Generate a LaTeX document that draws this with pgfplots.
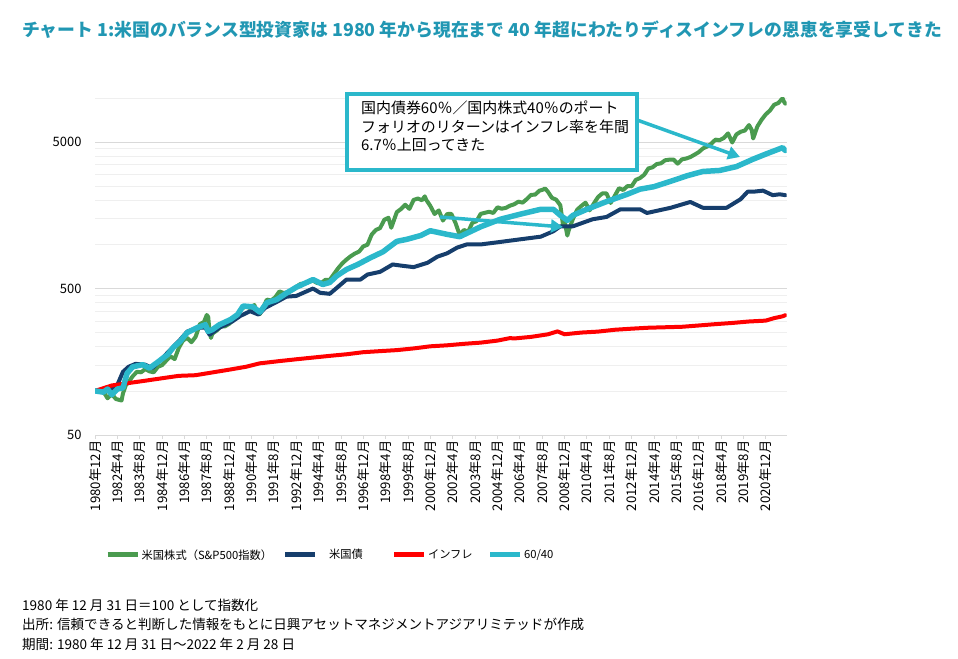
\documentclass[border=0pt]{standalone}
\usepackage{fontspec}
\setmainfont{Noto Sans CJK JP}
\usepackage{pgfplots}
\pgfplotsset{compat=1.18}
\usetikzlibrary{arrows.meta}

\definecolor{stk}{HTML}{4A9B4F}
\definecolor{bnd}{HTML}{163E6C}
\definecolor{cpi}{HTML}{FF0000}
\definecolor{mix}{HTML}{2BB8CB}
\definecolor{ttl}{HTML}{2197B3}
\definecolor{gmaj}{HTML}{D9D9D9}
\definecolor{gmin}{HTML}{EFEFEF}

% month index: 0 = 1980-12, 494 = 2022-02; 1980-12-31 = 100
\pgfplotstableread{
m v
0 100
3 101
6 99
9 89
12 95
15 88
19 86
20 96
22 109
24 115
27 126
30 135
33 134
36 141
39 136
42 134
45 146
48 150
51 161
54 172
57 165
60 197
63 221
66 230
69 215
72 234
75 285
78 296
80 330
81 320
82 253
83 230
84 246
87 258
90 275
93 276
96 287
99 305
102 330
105 364
108 378
111 367
114 386
116 345
118 335
120 366
123 420
126 414
129 436
132 478
135 466
138 472
141 487
144 514
147 537
150 540
153 554
156 566
159 545
162 547
165 574
168 573
171 628
174 688
177 743
180 789
183 831
186 867
189 894
192 970
195 996
198 1168
201 1256
204 1293
207 1473
210 1521
212 1300
213 1384
216 1663
219 1746
222 1867
225 1750
228 2013
231 2059
234 2003
236 2130
237 2018
240 1830
243 1613
246 1707
249 1456
252 1613
255 1617
258 1400
261 1159
264 1256
267 1217
270 1404
273 1441
276 1617
279 1644
282 1672
285 1641
288 1793
291 1754
294 1777
297 1841
300 1881
303 1960
306 1930
309 2040
312 2178
315 2190
318 2327
321 2376
322 2414
324 2298
327 2080
330 2022
333 1852
335 1336
336 1448
338 1150
339 1250
342 1493
345 1725
348 1831
351 1928
354 1709
357 1905
360 2107
363 2230
366 2233
369 1920
372 2151
375 2421
378 2355
381 2502
384 2496
387 2759
390 2840
393 2990
396 3304
399 3364
402 3540
405 3580
408 3756
411 3792
414 3800
417 3560
420 3808
423 3860
426 3950
429 4100
432 4263
435 4520
438 4660
441 4870
444 5194
447 5150
450 5330
453 5730
456 4966
459 5640
462 5880
465 5990
468 6530
470 6040
471 5290
474 6390
477 7100
480 7731
483 8210
486 8990
489 9240
492 9950
493 9440
494 9150
}\stocks

\pgfplotstableread{
m v
0 100
11 102
16 110
20 135
24 146
29 153
36 151
41 143
47 163
54 191
61 224
66 254
73 270
79 270
82 242
89 270
98 297
104 325
111 350
117 332
122 370
129 400
137 440
144 445
156 500
161 468
168 460
173 505
180 576
190 576
195 623
204 650
213 730
220 715
228 700
238 750
245 825
252 870
259 950
266 1000
276 1000
290 1040
304 1083
319 1130
328 1230
333 1330
342 1330
356 1485
366 1540
376 1738
390 1738
395 1640
412 1780
426 1950
435 1780
452 1780
462 2036
467 2290
471 2290
478 2330
485 2170
490 2200
494 2170
}\bonds

\pgfplotstableread{
m v
0 100
12 108.9
24 113.1
36 117.4
48 122.0
60 126.7
72 128.0
84 133.7
96 139.6
108 146.1
118 154.3
120 155.0
132 159.8
144 164.4
156 168.9
168 173.5
180 177.9
192 183.8
204 186.9
216 189.9
228 195.0
240 201.6
252 204.8
264 209.6
276 213.6
288 220.5
297 229.4
300 228.0
312 233.8
324 243.3
331 254.9
336 243.6
348 250.2
360 254.0
372 261.5
384 266.0
396 270.0
408 272.0
420 274.0
432 279.7
444 285.6
456 291.0
468 297.8
480 301.9
486 314.0
492 323.0
494 328.7
}\infl

\pgfplotstableread{
m v
0 100
6 98
9 103
12 94
16 103
20 105
23 132
27 146
34 151
39 143
44 155
52 177
56 198
61 218
66 250
73 270
79 283
81 255
84 262
89 283
97 307
102 332
106 380
113 375
118 345
123 400
130 420
137 465
144 510
156 576
163 533
168 550
173 610
180 675
188 730
197 810
206 890
216 1050
223 1083
233 1150
240 1240
252 1172
261 1130
276 1320
290 1485
304 1607
319 1738
328 1738
333 1580
338 1460
342 1580
352 1738
366 1960
381 2203
390 2384
400 2480
412 2700
424 2950
435 3150
447 3200
459 3400
471 3825
480 4139
492 4580
494 4380
}\mixed

\begin{document}
\begin{tikzpicture}[x=1bp,y=1bp]
\path[use as bounding box] (0,0) rectangle (958,659);

\begin{axis}[
  at={(95bp,224bp)}, anchor=south west,
  scale only axis, width=691.7bp, height=337bp,
  ymode=log, xmin=0, xmax=495, ymin=50, ymax=10000,
  axis x line=bottom, axis y line=left,
  x axis line style={-, draw=gmaj, line width=0.8bp},
  y axis line style={draw=none},
  tick align=outside, major tick length=4bp,
  xtick={0,16,...,480},
  xticklabels={1980年12月,1982年4月,1983年8月,1984年12月,1986年4月,1987年8月,1988年12月,1990年4月,1991年8月,1992年12月,1994年4月,1995年8月,1996年12月,1998年4月,1999年8月,2000年12月,2002年4月,2003年8月,2004年12月,2006年4月,2007年8月,2008年12月,2010年4月,2011年8月,2012年12月,2014年4月,2015年8月,2016年12月,2018年4月,2019年8月,2020年12月},
  xtick style={draw=gmaj, line width=0.8bp},
  xticklabel style={rotate=90, anchor=east, inner sep=1.5bp, font=\fontsize{13.3}{13.3}\selectfont},
  ytick={50,500,5000}, yticklabels={50,500,5000},
  ytick style={draw=none},
  yticklabel style={font=\fontsize{13}{13}\selectfont, xshift=-6bp},
  minor ytick={100,150,200,250,300,350,400,450,1000,1500,2000,2500,3000,3500,4000,4500,10000},
  ymajorgrids, yminorgrids,
  major grid style={draw=gmaj, line width=0.8bp},
  minor grid style={draw=gmin, line width=0.8bp},
  /pgf/number format/assume math mode=true,
  legend columns=4,
  legend style={at={(0.0145,-0.3561)}, anchor=west, draw=none, fill=none,
    inner sep=0pt, font=\fontsize{11.3}{11.3}\selectfont,
    nodes={inner sep=1.5bp},
    /tikz/every even column/.append style={column sep=9bp}},
  legend image code/.code={\draw[#1, line width=5bp, line cap=butt] (0bp,0bp) -- (30bp,0bp);},
  every axis plot/.append style={line join=round, line cap=round},
]
\addplot[stk, line width=4bp] table[x=m, y=v] {\stocks};
\addlegendentry{米国株式（S\&P500指数）}
\addplot[bnd, line width=4bp] table[x=m, y=v] {\bonds};
\addlegendentry{\makebox[62bp][l]{\hspace{10bp}米国債}}
\addplot[cpi, line width=4bp] table[x=m, y=v] {\infl};
\addlegendentry{\makebox[49bp][l]{インフレ}}
\addplot[mix, line width=5.5bp] table[x=m, y=v] {\mixed};
\addlegendentry{60/40}
\end{axis}

% title
\node[anchor=west, inner sep=0, text=ttl, font=\fontsize{17.9}{17.9}\selectfont\bfseries]
  at (22,629) {チャート 1:米国のバランス型投資家は 1980 年から現在まで 40 年超にわたりディスインフレの恩恵を享受してきた};

% annotation
\node[draw=mix, line width=4bp, fill=white, minimum width=290bp, minimum height=76bp,
  anchor=north west, inner sep=0] at (345,567) {};
\node[anchor=north west, inner sep=0, align=left, font=\fontsize{15}{18.5}\selectfont]
  at (361,558) {国内債券60％／国内株式40％のポート\\フォリオのリターンはインフレ率を年間\\6.7％上回ってきた};
\draw[mix, line width=3.5bp, -{Triangle[length=12bp, width=13bp]}] (637,539) -- (740,502);
\draw[mix, line width=3.5bp, -{Triangle[length=12bp, width=13bp]}] (440,442) -- (563,432);

% notes
\begin{scope}[every node/.style={anchor=west, inner sep=0, font=\fontsize{13.6}{13.6}\selectfont}]
\node at (22,54) {1980 年 12 月 31 日＝100 として指数化};
\node at (22,35) {出所: 信頼できると判断した情報をもとに日興アセットマネジメントアジアリミテッドが作成};
\node at (22,15) {期間: 1980 年 12 月 31 日～2022 年 2 月 28 日};
\end{scope}
\end{tikzpicture}
\end{document}
